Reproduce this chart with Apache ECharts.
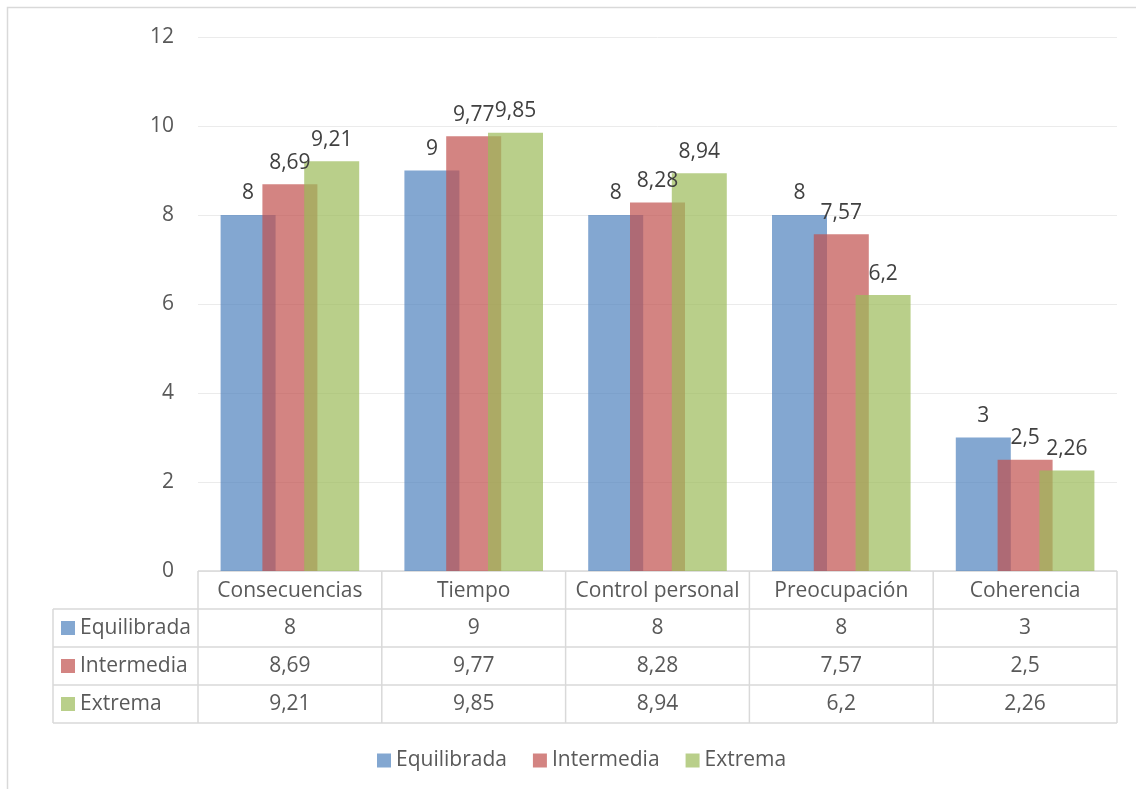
<!DOCTYPE html>
<html>
<head>
<meta charset="utf-8">
<script src="https://cdn.jsdelivr.net/npm/echarts@6/dist/echarts.min.js"></script>
<style>
html,body{margin:0;padding:0;background:#fff;}
#main{width:1136px;height:789px;}
</style>
</head>
<body>
<div id="main"></div>
<script>
const categories = ['Consecuencias', 'Tiempo', 'Control personal', 'Preocupación', 'Coherencia'];
const seriesNames = ['Equilibrada', 'Intermedia', 'Extrema'];
const equilibrada = [8, 9, 8, 8, 3];
const intermedia = [8.69, 9.77, 8.28, 7.57, 2.5];
const extrema = [9.21, 9.85, 8.94, 6.2, 2.26];
const seriesValues = [equilibrada, intermedia, extrema];
const colors = ['rgba(79,129,189,0.7)', 'rgba(192,80,77,0.7)', 'rgba(155,187,89,0.7)'];
const yMin = 0, yMax = 12, yStep = 2;

const FONT = '"Open Sans", sans-serif';
const FS = 21;
const TXT = '#595959';
const LINE = '#D9D9D9';
const fmt = v => String(v).replace('.', ',');

const chart = echarts.init(document.getElementById('main'), null, {renderer: 'canvas'});

const option = {
  animation: false,
  textStyle: {fontFamily: FONT},
  grid: {left: 198, right: 19, top: 37, bottom: 218, containLabel: false},
  legend: {
    data: seriesNames,
    top: 745,
    left: 372,
    itemWidth: 14,
    itemHeight: 14,
    itemGap: 26,
    icon: 'rect',
    textStyle: {fontFamily: FONT, fontSize: FS, color: TXT}
  },
  xAxis: {
    type: 'category',
    data: categories,
    axisLine: {show: false},
    axisTick: {show: false},
    axisLabel: {fontFamily: FONT, fontSize: FS, color: TXT, margin: 10, interval: 0}
  },
  yAxis: {
    type: 'value',
    min: yMin, max: yMax, interval: yStep,
    axisLine: {show: false},
    axisTick: {show: false},
    axisLabel: {fontFamily: FONT, fontSize: FS, color: TXT, margin: 24},
    splitLine: {lineStyle: {color: '#EBEBEB', width: 1}}
  },
  series: seriesNames.map((name, i) => ({
    name: name,
    type: 'bar',
    data: seriesValues[i],
    barWidth: 55,
    barGap: '-24%',
    itemStyle: {color: colors[i]},
    label: {
      show: true,
      position: 'top',
      distance: 11,
      formatter: p => fmt(p.value),
      fontFamily: FONT,
      fontSize: FS,
      color: '#404040'
    }
  }))
};
chart.setOption(option);

function buildTable() {
  const c0 = chart.convertToPixel({xAxisIndex: 0}, 0);
  const c1 = chart.convertToPixel({xAxisIndex: 0}, 1);
  const step = c1 - c0;
  const x0 = c0 - step / 2;
  const xEnd = x0 + step * categories.length;
  const yTop = chart.convertToPixel({yAxisIndex: 0}, 0);
  const rowH = 38;
  const tableLeft = 53;
  const els = [];
  const ln = (x1, y1, x2, y2) => els.push({type: 'line', shape: {x1, y1, x2, y2}, style: {stroke: LINE, lineWidth: 1.5}, silent: true});
  els.push({type: 'rect', shape: {x: 7.5, y: 7.5, width: 1200, height: 900}, style: {fill: null, stroke: '#D9D9D9', lineWidth: 1.5}, silent: true});
  ln(x0, yTop, xEnd, yTop);
  for (let r = 1; r <= seriesNames.length + 1; r++) {
    ln(tableLeft, yTop + r * rowH, xEnd, yTop + r * rowH);
  }
  ln(tableLeft, yTop + rowH, tableLeft, yTop + rowH * (seriesNames.length + 1));
  for (let c = 0; c <= categories.length; c++) {
    ln(x0 + c * step, yTop, x0 + c * step, yTop + rowH * (seriesNames.length + 1));
  }
  seriesNames.forEach((name, r) => {
    const cy = yTop + rowH * (r + 1) + rowH / 2;
    els.push({type: 'rect', shape: {x: 61, y: cy - 7, width: 14, height: 14}, style: {fill: colors[r]}, silent: true});
    els.push({type: 'text', x: 80, y: cy, style: {text: name, font: FS + 'px ' + FONT, fill: TXT, align: 'left', verticalAlign: 'middle'}, silent: true});
    seriesValues[r].forEach((v, c) => {
      els.push({type: 'text', x: x0 + c * step + step / 2, y: cy, style: {text: fmt(v), font: FS + 'px ' + FONT, fill: TXT, align: 'center', verticalAlign: 'middle'}, silent: true});
    });
  });
  chart.setOption({graphic: {elements: els}});
}
buildTable();
</script>
</body>
</html>
